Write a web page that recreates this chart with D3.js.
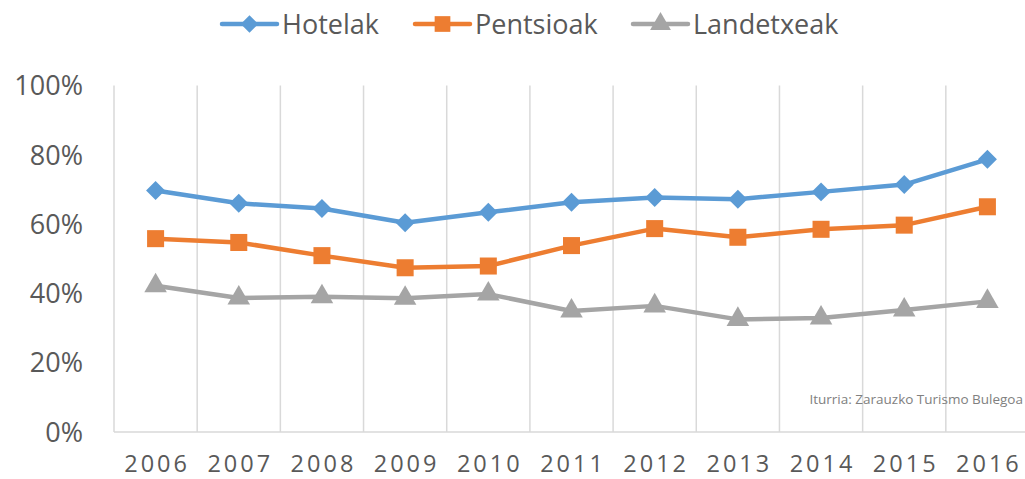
<!DOCTYPE html>
<html><head><meta charset="utf-8">
<script src="https://cdn.jsdelivr.net/npm/d3@7"></script>
<style>body{margin:0;background:#fff;}svg{display:block;font-family:"Open Sans",sans-serif;}</style>
</head><body><svg id="c" width="1025" height="479"></svg>
<script>
const years = ["2006","2007","2008","2009","2010","2011","2012","2013","2014","2015","2016"];
const hotelak = [69.7, 66.0, 64.5, 60.4, 63.4, 66.3, 67.7, 67.2, 69.3, 71.4, 78.7];
const pentsioak = [55.8, 54.7, 50.9, 47.4, 47.9, 53.8, 58.7, 56.2, 58.5, 59.7, 65.0];
const landetxeak = [42.2, 38.7, 39.0, 38.6, 39.8, 34.9, 36.4, 32.5, 32.9, 35.2, 37.7];
const seriesNames = ["Hotelak","Pentsioak","Landetxeak"];
const yTicks = [0,20,40,60,80,100];
const sourceText = "Iturria: Zarauzko Turismo Bulegoa";

const colors = ["#5b9bd5","#ed7d31","#a5a5a5"];
const shapes = [d3.symbolDiamond2, d3.symbolSquare, d3.symbolTriangle];
const series = [hotelak, pentsioak, landetxeak];

const svg = d3.select("#c");
const x = d3.scaleBand().domain(years).range([114, 1029]).padding(0);
const y = d3.scaleLinear().domain([0,100]).range([432, 85.5]);

svg.append("g").selectAll("line").data(years).join("line")
  .attr("x1", d=>x(d)).attr("x2", d=>x(d))
  .attr("y1", y(100)).attr("y2", y(0))
  .attr("stroke", "#d9d9d9").attr("stroke-width", 1.5);
svg.append("line").attr("x1", 114).attr("x2", 1029).attr("y1", y(0)).attr("y2", y(0))
  .attr("stroke", "#d9d9d9").attr("stroke-width", 1.5);

svg.append("g").selectAll("text").data(yTicks).join("text")
  .attr("x", 83).attr("y", d=>y(d)).attr("dy", "0.36em")
  .attr("text-anchor", "end").attr("fill", "#595959").attr("font-size", 27)
  .text(d=>d+"%");

svg.append("g").selectAll("text").data(years).join("text")
  .attr("x", d=>x(d)+x.bandwidth()/2 + 1.5).attr("y", 472)
  .attr("text-anchor", "middle").attr("fill", "#595959").attr("font-size", 23.5)
  .attr("letter-spacing", 3)
  .text(d=>d);

svg.append("text").attr("x", 1023).attr("y", 404).attr("text-anchor", "end")
  .attr("fill", "#808080").attr("font-size", 13.5).text(sourceText);

const line = d3.line().x((d,i)=>x(years[i])+x.bandwidth()/2).y(d=>y(d));
const symSizes = [230, 290, 220];
series.forEach((s, k) => {
  svg.append("path").datum(s).attr("d", line).attr("fill","none")
    .attr("stroke", colors[k]).attr("stroke-width", 4.5).attr("stroke-linejoin","round").attr("stroke-linecap","round");
  svg.append("g").selectAll("path").data(s).join("path")
    .attr("transform", (d,i)=>`translate(${x(years[i])+x.bandwidth()/2},${y(d)})`)
    .attr("d", d3.symbol().type(shapes[k]).size(symSizes[k]))
    .attr("fill", colors[k]);
});

const legX = [222, 415, 633];
seriesNames.forEach((n, k) => {
  const g = svg.append("g").attr("transform", `translate(${legX[k]},24)`);
  g.append("line").attr("x1", 0).attr("x2", 55).attr("y1", 0).attr("y2", 0)
    .attr("stroke", colors[k]).attr("stroke-width", 4.5).attr("stroke-linecap","round");
  g.append("path").attr("transform", "translate(27.5,0)")
    .attr("d", d3.symbol().type(shapes[k]).size(symSizes[k]*0.85)).attr("fill", colors[k]);
  g.append("text").attr("x", 60).attr("y", 0).attr("dy","0.36em")
    .attr("fill", "#595959").attr("font-size", 27).text(n);
});
</script></body></html>
